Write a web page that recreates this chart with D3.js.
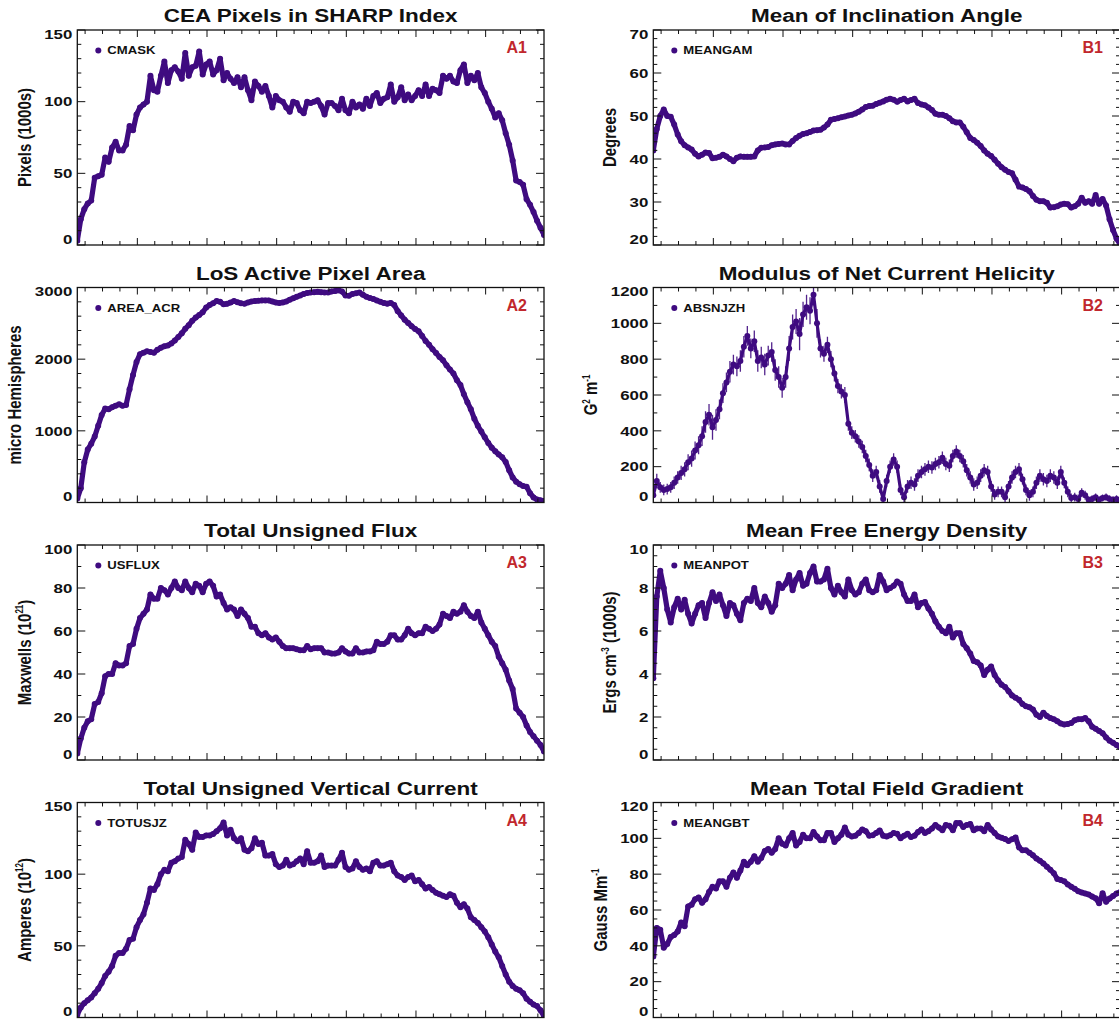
<!DOCTYPE html>
<html>
<head>
<meta charset="utf-8">
<script src="https://cdn.jsdelivr.net/npm/d3@7"></script>
<style>
  html, body { margin: 0; padding: 0; background: #fff; }
  svg { display: block; }
  text { font-family: "Liberation Sans", Arial, Helvetica, sans-serif; font-weight: bold; }
</style>
</head>
<body>
<svg id="chart" width="1119" height="1019"></svg>
<script>
// ---- sampling grid (days) ----
const T0 = 0.138, DT = 0.05, NPTS = 135;
const times = d3.range(NPTS).map(i => T0 + i * DT);

// ---- panel metadata ----
const panelIds   = ["A1", "A2", "A3", "A4", "B1", "B2", "B3", "B4"];
const titles     = ["CEA Pixels in SHARP Index", "LoS Active Pixel Area", "Total Unsigned Flux", "Total Unsigned Vertical Current",
                    "Mean of Inclination Angle", "Modulus of Net Current Helicity", "Mean Free Energy Density", "Mean Total Field Gradient"];
const seriesNames = ["CMASK", "AREA_ACR", "USFLUX", "TOTUSJZ", "MEANGAM", "ABSNJZH", "MEANPOT", "MEANGBT"];
const yDomains   = [[0,150],[0,3000],[0,100],[0,150],[20,70],[0,1200],[0,10],[0,120]];
const yMajor     = [50, 1000, 20, 50, 10, 200, 2, 20];
const yMinor     = [10, 200, 10, 10, 2, 100, 0.5, 5];

// ---- series values ----
const a1Vals = [3,18,25,29,31,47,48,49,61,58, 68,72,66,66,70,83,80,91,96,98, 100,118,108,107,118,128,113,122,124,121,
  116,134,118,124,125,135,119,126,128,119, 122,130,115,120,116,113,117,110,117,108, 101,114,111,107,111,104,96,104,101,100,
  96,93,100,99,94,92,100,99,100,101, 97,91,99,99,97,94,102,94,92,100, 96,98,95,102,97,104,106,99,102,103,
  112,100,103,110,101,105,101,104,108,104, 112,104,109,108,106,118,116,118,114,113, 122,126,113,118,115,120,110,106,100,95,
  89,92,87,78,70,59,45,44,42,32, 28,23,17,12,7];
const a2Vals = [55,200,560,740,820,920,1070,1220,1310,1300, 1330,1350,1370,1350,1360,1580,1780,1960,2070,2090,
  2110,2100,2090,2130,2160,2180,2190,2220,2260,2310, 2360,2425,2475,2535,2580,2615,2655,2720,2755,2780,
  2810,2800,2765,2772,2790,2810,2795,2780,2775,2790, 2805,2810,2815,2820,2820,2820,2805,2790,2785,2792,
  2805,2830,2850,2870,2890,2910,2925,2930,2935,2940, 2935,2930,2930,2945,2950,2960,2945,2890,2885,2910,
  2920,2930,2900,2870,2855,2840,2820,2800,2785,2775, 2785,2755,2670,2610,2550,2505,2460,2420,2390,2325,
  2255,2200,2140,2085,2030,1985,1915,1855,1800,1705, 1640,1510,1400,1300,1170,1070,990,910,830,765,
  715,670,630,565,450,350,290,255,230,220, 130,70,42,30,20];
const a3Vals = [3,10,15,18,19,26,27,31,39,40, 40,45,44,44,45,53,54,61,66,68, 70,77,75,75,80,79,77,80,83,80,
  79,83,80,78,82,81,78,82,83,81, 76,77,73,70,71,70,67,70,68,66, 62,62,59,58,59,57,56,57,55,53,
  52,52,52,51.5,51,51,53,51.5,52,52, 52,50,50,49.5,49.5,50,52,50.5,49.5,49.5, 52,50,50,50.5,50.5,51,55,54,54,55,
  58,58,56,56,58,61,59,58,59,59, 62,61,60,61,63,68,67,66,69,68, 69,72,69,67,66,69,64,61,58,55,
  53,48,45,42,37,33,24,22,20,16, 13,11,9,7,4];
const a4Vals = [2,7,10,12,14,17,20,24,29,32, 36,43,45,45,48,54,55,63,68,72, 80,90,89,93,100,103,102,108,109,111,
  112,124,121,117,129,126,126,127,127,128, 130,132,136,127,131,125,123,125,117,116, 118,125,121,122,113,113,114,107,105,106,
  110,106,107,109,111,107,116,108,108,109, 113,105,106,106,106,110,115,105,103,104, 109,105,103,104,102,108,109,106,106,107,
  108,102,99,98,96,98,99,95,96,93, 90,91,89,87,86,85,84,86,85,80, 77,79,76,70,68,66,63,60,56,51,
  46,42,36,30,25,22,20,19,17,13, 11,9,8,5,1];
const b1Vals = [42,47,50,51.5,50,49.8,48,45.7,44.1,43.2, 42.7,42.2,41.2,40.6,41,41.5,41.4,40.2,40.3,40.5,
  41,40.6,40,39.5,40.3,40.6,40.5,40.5,40.5,40.6, 42,42.6,42.7,42.8,43.2,43.4,43.5,43.6,43.4,43.4,
  44.2,44.9,45.4,45.8,46,46.3,46.6,46.7,46.8,47.3, 48,49.1,49.3,49.5,49.7,49.9,50.1,50.3,50.6,51,
  51.5,52.1,52.3,52.4,52.8,53.1,53.4,53.8,54,53.8, 53.3,53.7,54,53.4,53.7,54,53,52.7,52.5,52,
  51.4,50.5,50.3,50.3,50,49.5,48.8,48.5,48.5,47.5, 46.2,44.9,44.4,43.8,43,42,41.2,40.7,39.8,38.9,
  38.1,37.5,37,36.7,35.2,33.6,33.4,33,32.5,31.4, 30.5,30.2,30.2,29.8,28.7,28.8,29,29.4,29.6,29.5,
  28.7,29,29.6,31,29.8,30.2,29.6,31.6,29.6,30.7, 29.2,26,23.5,21.5,20.2];
const b2Vals = [40,120,85,70,75,85,110,140,165,185, 225,245,290,320,370,450,490,420,460,520,
  610,670,730,770,760,790,870,930,860,900, 790,810,770,820,840,740,700,640,700,860,
  980,1010,940,1050,1090,1070,1160,1000,860,830, 880,800,720,650,620,600,440,390,370,340,
  310,260,210,150,170,90,20,120,200,240, 200,70,30,90,110,100,150,170,185,200,
  195,215,225,250,215,205,260,285,260,230, 180,140,100,110,150,180,170,90,45,60,
  60,30,90,140,170,185,130,70,40,60, 110,150,130,120,150,140,110,170,110,60,
  25,30,20,55,40,15,20,30,15,25, 30,20,15,20,10];
const b2Errs = [30,40,30,30,30,30,35,35,40,40, 45,45,50,50,55,60,60,70,60,55,
  55,55,60,55,55,60,60,55,55,60, 60,60,60,55,55,60,60,55,60,70,
  70,70,90,70,70,75,60,80,50,45, 45,45,45,40,40,45,40,35,35,35,
  35,35,35,35,35,35,30,35,35,35, 35,30,30,35,35,35,35,35,35,35,
  35,35,35,35,35,35,35,35,35,35, 35,35,35,35,35,35,35,30,30,30,
  30,30,30,35,35,35,30,30,30,30, 35,35,35,35,35,35,35,35,30,30,
  25,25,25,25,25,20,20,20,20,20, 20,20,20,20,15];
const b3Vals = [3.8,7.6,8.8,8.0,7.0,6.4,7.1,7.5,7.0,7.45, 6.8,6.35,6.8,7.2,7.3,6.6,7.3,7.8,7.4,7.7,
  7.2,6.7,7.3,7.2,6.8,6.5,7.3,7.5,7.4,8.0, 7.3,7.1,7.6,7.3,6.9,7.2,8.2,8.0,8.2,8.6,
  7.9,8.4,8.7,8.1,8.2,8.7,9.0,8.3,8.3,8.4, 8.9,8.0,7.7,8.1,7.8,7.6,8.4,7.9,7.7,7.8,
  8.2,8.4,7.9,7.8,7.9,8.6,8.3,7.9,8.0,8.1, 8.3,8.2,7.7,7.4,7.4,7.7,7.1,7.3,7.35,7.05,
  6.8,6.45,6.2,6.0,5.9,6.2,5.7,5.9,5.9,5.4, 5.2,4.95,4.6,4.55,4.4,3.95,4.2,4.35,3.95,3.7,
  3.5,3.4,3.2,3.0,2.9,2.8,2.6,2.5,2.45,2.35, 2.1,2.0,2.2,2.05,1.95,1.9,1.8,1.7,1.65,1.68,
  1.72,1.85,1.9,1.9,1.95,1.8,1.55,1.45,1.35,1.25, 1.05,0.9,0.8,0.7,0.6];
const b4Vals = [34,50,49,39,41,45,46,48,53,51, 62,63,66,67,64,66,70,73,72,76,
  76,73,78,81,78,82,87,85,87,90, 87,89,93,94,92,94,100,97,96,100,
  103,96,98,102,100,100,103.5,101,99,99, 103,103,98,100,102,106,102,101,101.5,103,
  105,104,101.5,101.7,103,104.4,101.5,101,101.7,103, 102.5,100,101.5,102.5,100.7,101.5,103.5,105,103,104,
  105.5,107.5,106,104.5,107.5,107,104.5,108.5,108.5,106.3, 107.5,108,104.5,105.5,105.5,104,107.5,105,103,101,
  100.3,99.6,98.5,99.5,100.5,95,93.3,93.3,92,90.5, 88.7,87.5,86,84.2,82.5,80.5,77.3,76.7,76,74.3,
  73,71.8,70.5,69.8,69.2,68.6,67.5,66.5,63.7,69.3, 64.6,66.4,67.8,69.2,70];

const allVals = [a1Vals, a2Vals, a3Vals, a4Vals, b1Vals, b2Vals, b3Vals, b4Vals];

// ---- layout & style ----
const SX = 1.25;                  // horizontal stretch of the original raster text
const colLeft = [77.3, 653.3];
const rowTop  = [30, 287.5, 545, 802.5];
const PW = 466.7, PH = 215;
const DOT = "#3f0b80";
const RED = "#c1272d";
const INK = "#111";

const svg = d3.select("#chart");
svg.append("rect").attr("width", 1119).attr("height", 1019).attr("fill", "#fff");

const x = d3.scaleLinear().domain([T0, T0 + (NPTS - 1) * DT]).range([0, PW]);
const xMinorTicks = d3.range(0.25, 6.84, 0.25).filter(t => Math.abs(t - Math.round(t)) > 1e-6);
const xMajorTicks = d3.range(1, 7, 1);

function stretchedText(parent, px, py, str, size, anchor, fill) {
  return parent.append("text")
    .attr("transform", `translate(${px},${py}) scale(${SX},1)`)
    .attr("text-anchor", anchor)
    .attr("font-size", size)
    .attr("fill", fill || INK)
    .text(str);
}

function yTitle(parent, px, py, idx) {
  const t = parent.append("text")
    .attr("transform", `translate(${px},${py}) scale(${SX},1) rotate(-90)`)
    .attr("text-anchor", "middle")
    .attr("dy", "0.35em")
    .attr("font-size", 15)
    .attr("fill", INK);
  const sup = (s) => { t.append("tspan").attr("font-size", 8).attr("dy", -6).text(s); };
  const back = (s) => { t.append("tspan").attr("font-size", 15).attr("dy", 6).text(s); };
  switch (idx) {
    case 0: t.text("Pixels (1000s)"); break;
    case 1: t.text("micro Hemispheres"); break;
    case 2: t.append("tspan").text("Maxwells (10"); sup("21"); back(")"); break;
    case 3: t.append("tspan").text("Amperes (10"); sup("12"); back(")"); break;
    case 4: t.text("Degrees"); break;
    case 5: t.append("tspan").text("G"); sup("2"); back(" m"); sup("-1"); break;
    case 6: t.append("tspan").text("Ergs cm"); sup("-3"); back(" (1000s)"); break;
    case 7: t.append("tspan").text("Gauss Mm"); sup("-1"); break;
  }
}

panelIds.forEach((pid, k) => {
  const col = k < 4 ? 0 : 1, row = k % 4;
  const L = colLeft[col], T = rowTop[row];
  const g = svg.append("g").attr("transform", `translate(${L},${T})`);
  const [y0, y1] = yDomains[k];
  const y = d3.scaleLinear().domain([y0, y1]).range([PH, 0]);
  const vals = allVals[k];
  const n = Math.min(vals.length, times.length);
  const pts = d3.range(n).map(i => ({ t: times[i], v: vals[i], e: k === 5 ? b2Errs[i] : 0 }));

  // clip
  const cid = "clip" + pid;
  g.append("clipPath").attr("id", cid).append("rect").attr("x", 0).attr("y", 0).attr("width", PW).attr("height", PH);
  const data = g.append("g").attr("clip-path", `url(#${cid})`);

  if (k === 5) {
    data.selectAll("line.err").data(pts).join("line")
      .attr("x1", d => x(d.t)).attr("x2", d => x(d.t))
      .attr("y1", d => y(Math.max(y0, d.v - d.e))).attr("y2", d => y(d.v + d.e))
      .attr("stroke", DOT).attr("stroke-width", 1.3).attr("stroke-opacity", 0.9);
  }
  const line = d3.line().x(d => x(d.t)).y(d => y(d.v));
  data.append("path").datum(pts).attr("d", line)
    .attr("fill", "none").attr("stroke", DOT)
    .attr("stroke-width", k === 5 ? 3.2 : 5.2)
    .attr("stroke-linejoin", "round").attr("stroke-linecap", "round");
  data.selectAll("circle").data(pts).join("circle")
    .attr("cx", d => x(d.t)).attr("cy", d => y(d.v)).attr("r", 3).attr("fill", DOT);

  // ticks (all four sides, inward)
  const tk = g.append("g").attr("stroke", INK).attr("stroke-width", 1);
  const yMaj = d3.range(y0, y1 + 1e-9, yMajor[k]);
  const yMin = d3.range(y0, y1 + 1e-9, yMinor[k]).filter(v => Math.abs((v - y0) / yMajor[k] - Math.round((v - y0) / yMajor[k])) > 1e-6);
  yMin.forEach(v => {
    tk.append("line").attr("x1", 0).attr("x2", 4).attr("y1", y(v)).attr("y2", y(v));
    tk.append("line").attr("x1", PW).attr("x2", PW - 4).attr("y1", y(v)).attr("y2", y(v));
  });
  yMaj.forEach(v => {
    tk.append("line").attr("x1", 0).attr("x2", 8).attr("y1", y(v)).attr("y2", y(v));
    tk.append("line").attr("x1", PW).attr("x2", PW - 8).attr("y1", y(v)).attr("y2", y(v));
  });
  xMinorTicks.forEach(t => {
    tk.append("line").attr("x1", x(t)).attr("x2", x(t)).attr("y1", PH).attr("y2", PH - 4);
    tk.append("line").attr("x1", x(t)).attr("x2", x(t)).attr("y1", 0).attr("y2", 4);
  });
  xMajorTicks.forEach(t => {
    tk.append("line").attr("x1", x(t)).attr("x2", x(t)).attr("y1", PH).attr("y2", PH - 7);
    tk.append("line").attr("x1", x(t)).attr("x2", x(t)).attr("y1", 0).attr("y2", 7);
  });
  g.append("rect").attr("x", 0).attr("y", 0).attr("width", PW).attr("height", PH)
    .attr("fill", "none").attr("stroke", INK).attr("stroke-width", 1.3);

  // tick labels
  let maxW = 0;
  yMaj.forEach((v, j) => {
    let yy = y(v);
    if (j === 0) yy -= 6;
    if (j === yMaj.length - 1) yy += 4;
    const t = stretchedText(g, -5, yy, d3.format("~g")(v), 13.5, "end").attr("dy", "0.35em");
    maxW = Math.max(maxW, t.node().getComputedTextLength() * SX);
  });

  // y title
  yTitle(g, -5 - maxW - 20, PH / 2, k);

  // panel title
  stretchedText(g, PW / 2, -8, titles[k], 18, "middle");

  // legend
  g.append("circle").attr("cx", 21).attr("cy", 20.5).attr("r", 3).attr("fill", DOT);
  stretchedText(g, 30, 24, seriesNames[k], 10.5, "start");

  // panel id
  g.append("text").attr("x", PW - 17).attr("y", 23).attr("text-anchor", "end")
    .attr("font-size", 16).attr("fill", RED).text(pid);
});
</script>
</body>
</html>
